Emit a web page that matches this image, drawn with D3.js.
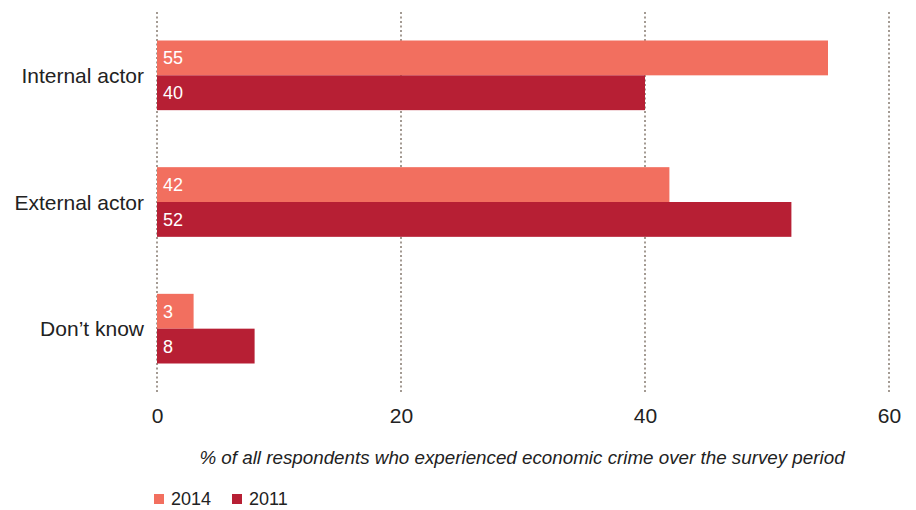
<!DOCTYPE html>
<html>
<head>
<meta charset="utf-8">
<script src="https://cdn.jsdelivr.net/npm/d3@7/dist/d3.min.js"></script>
<style>
  html, body { margin: 0; padding: 0; background: #fff; }
  svg { display: block; font-family: "Liberation Sans", Arial, Helvetica, sans-serif; }
</style>
</head>
<body>
<svg id="chart" width="916" height="510"></svg>
<script>
// Perpetrators of economic crime, share of respondents
const categories = ["Internal actor", "External actor", "Don\u2019t know"];
const seriesNames = ["2014", "2011"];
const values2014 = [55, 42, 3];
const values2011 = [40, 52, 8];
const xTicks = [0, 20, 40, 60];
const colors = ["#f26f5f", "#b71f34"];
const axisTitle = "% of all respondents who experienced economic crime over the survey period";

const svg = d3.select("#chart");

const x = d3.scaleLinear().domain([0, 60]).range([157, 889]);
const y = d3.scaleBand().domain(categories).range([12, 392])
  .paddingInner(0.45).paddingOuter(0.225);
const sub = d3.scaleBand().domain(seriesNames).range([0, y.bandwidth()]);
const color = d3.scaleOrdinal().domain(seriesNames).range(colors);

// Dotted vertical gridlines
svg.append("g").selectAll("line").data(xTicks).join("line")
  .attr("x1", d => x(d)).attr("x2", d => x(d))
  .attr("y1", 12).attr("y2", 393)
  .attr("stroke", "#a39a92").attr("stroke-width", 2)
  .attr("stroke-dasharray", "2,2.5");

// Bars
const rows = categories.map((c, i) => ({
  cat: c,
  series: [
    { name: "2014", value: values2014[i] },
    { name: "2011", value: values2011[i] }
  ]
}));

const groups = svg.append("g").selectAll("g").data(rows).join("g")
  .attr("transform", d => `translate(0,${y(d.cat)})`);

groups.selectAll("rect").data(d => d.series).join("rect")
  .attr("x", x(0))
  .attr("y", d => sub(d.name))
  .attr("width", d => x(d.value) - x(0))
  .attr("height", sub.bandwidth())
  .attr("fill", d => color(d.name));

groups.selectAll("text.val").data(d => d.series).join("text")
  .attr("class", "val")
  .attr("x", x(0) + 6)
  .attr("y", d => sub(d.name) + sub.bandwidth() / 2)
  .attr("dy", "0.36em")
  .attr("fill", "#fff")
  .attr("font-size", 18)
  .text(d => d.value);

// Category labels
svg.append("g").selectAll("text").data(categories).join("text")
  .attr("x", 144)
  .attr("y", d => y(d) + y.bandwidth() / 2)
  .attr("dy", "0.36em")
  .attr("text-anchor", "end")
  .attr("fill", "#222")
  .attr("font-size", 21)
  .text(d => d);

// X axis tick labels
const xAxis = d3.axisBottom(x).tickValues(xTicks).tickSize(0).tickPadding(0);
const gx = svg.append("g").attr("transform", "translate(0,408)").call(xAxis);
gx.select(".domain").remove();
gx.selectAll("text")
  .attr("font-size", 21)
  .attr("fill", "#222")
  .attr("font-family", "Liberation Sans, Arial, sans-serif");

// Axis title
svg.append("text")
  .attr("x", 522).attr("y", 464)
  .attr("text-anchor", "middle")
  .attr("font-style", "italic")
  .attr("font-size", 18.8)
  .attr("fill", "#222")
  .text(axisTitle);

// Legend
const legendX = [154, 232];
const legend = svg.append("g").selectAll("g").data(seriesNames).join("g")
  .attr("transform", (d, i) => `translate(${legendX[i]},494)`);
legend.append("rect").attr("width", 10).attr("height", 10).attr("fill", d => color(d));
legend.append("text").attr("x", 17).attr("y", 5).attr("dy", "0.36em")
  .attr("font-size", 18).attr("fill", "#222").text(d => d);
</script>
</body>
</html>
